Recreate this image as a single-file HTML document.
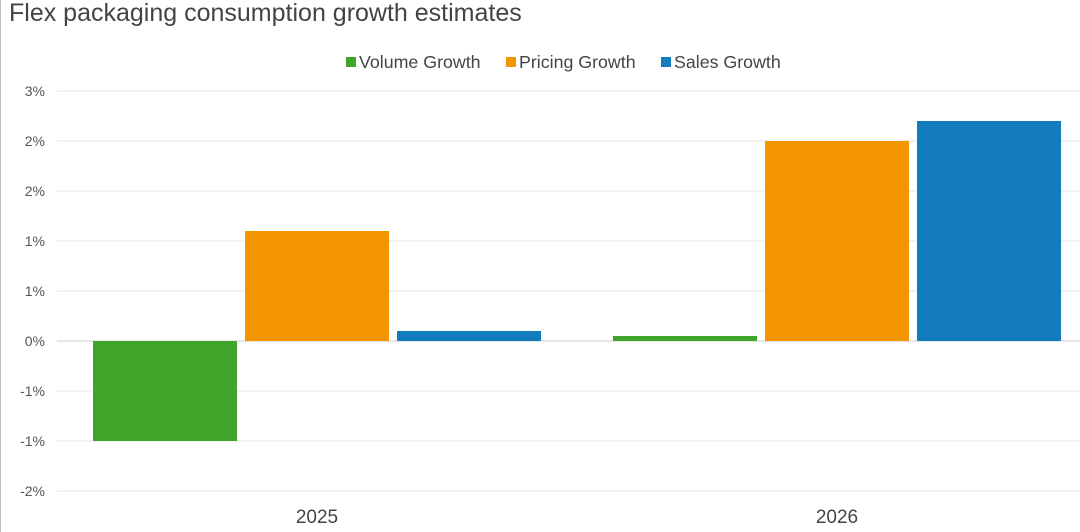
<!DOCTYPE html>
<html><head><meta charset="utf-8"><style>
body{margin:0;background:#fff;width:1080px;height:532px;overflow:hidden;font-family:"Liberation Sans",sans-serif;}
</style></head><body>
<svg id="chart" width="1080" height="532" xmlns="http://www.w3.org/2000/svg" style="position:absolute;left:0;top:0">
<line x1="0.5" y1="0" x2="0.5" y2="532" stroke="#bbb"/>
<text x="9" y="21" font-size="25" fill="#444">Flex packaging consumption growth estimates</text>
<g id="grid"></g>
<g id="yticks"></g>
<g id="bars"></g>
<g id="xticks"></g>
<g id="legend"></g>
</svg>
<script>
const categories=["2025","2026"];
const seriesNames=["Volume Growth","Pricing Growth","Sales Growth"];
const volume=[-1.0,0.05];
const pricing=[1.1,2.0];
const sales=[0.1,2.2];
const tickValues=[2.5,2.0,1.5,1.0,0.5,0,-0.5,-1.0,-1.5];
const tickLabels=["3%","2%","2%","1%","1%","0%","-1%","-1%","-2%"];
const colors=["#3fa62b","#f29500","#137cbd"];
const NS="http://www.w3.org/2000/svg";
const x0=57,x1=1097,yZero=341,pxPer=100;
const y=v=>yZero-v*pxPer;
function mk(tag,attrs,parent,text){const e=document.createElementNS(NS,tag);for(const k in attrs)e.setAttribute(k,attrs[k]);if(text!==undefined)e.textContent=text;document.getElementById(parent).appendChild(e);return e;}
tickValues.forEach((v,i)=>{
 const l=mk("line",{x1:x0,x2:1080,y1:y(v),y2:y(v),stroke:v===0?"#d0d0d0":"#e6e6e6"},"grid");
 
 
 const t=mk("text",{x:45,y:y(v)+5,"text-anchor":"end","font-size":14,fill:"#555"},"yticks",tickLabels[i]);
 
 
});
const catW=(x1-x0)/categories.length;
const data=[volume,pricing,sales];
const barW=144,gap=8;
categories.forEach((c,ci)=>{
 const cx=x0+catW*(ci+0.5);
 const start=cx-(3*barW+2*gap)/2;
 data.forEach((s,si)=>{
  const v=s[ci];
  const r=mk("rect",{x:start+si*(barW+gap),y:Math.min(y(v),y(0)),width:barW,height:Math.abs(y(v)-y(0)),fill:colors[si]},"bars");
  
  
 });
 const t=mk("text",{x:cx,y:523,"text-anchor":"middle","font-size":19,fill:"#444"},"xticks",c);
 
 
});
const lx=[346,506,661];
seriesNames.forEach((n,i)=>{
 const r=mk("rect",{x:lx[i],y:57,width:10,height:10,fill:colors[i]},"legend");
 
 
 const t=mk("text",{x:lx[i]+13,y:68,"font-size":17.8,fill:"#444"},"legend",n);
 
 
});
</script>
</body></html>
